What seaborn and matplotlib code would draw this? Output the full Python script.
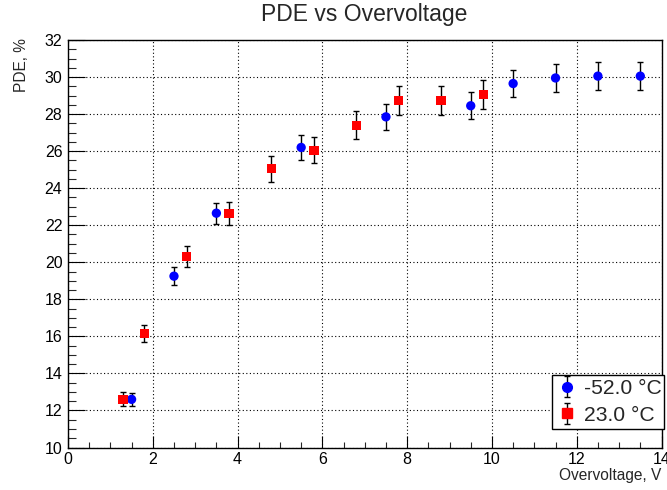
import matplotlib
matplotlib.use("Agg")
import matplotlib.pyplot as plt
import seaborn as sns
import pandas as pd
from matplotlib.ticker import MultipleLocator
from matplotlib.legend_handler import HandlerTuple
from matplotlib.lines import Line2D

# ---- data ----
cold_label = "-52.0 \u00b0C"
cold_x = [1.5, 2.5, 3.5, 5.5, 7.5, 9.5, 10.5, 11.5, 12.5, 13.5]
cold_y = [12.6, 19.25, 22.65, 26.2, 27.85, 28.45, 29.65, 29.95, 30.05, 30.05]
cold_err = [0.36, 0.49, 0.57, 0.66, 0.70, 0.72, 0.75, 0.76, 0.76, 0.76]

warm_label = "23.0 \u00b0C"
warm_x = [1.3, 1.8, 2.8, 3.8, 4.8, 5.8, 6.8, 7.8, 8.8, 9.8]
warm_y = [12.6, 16.15, 20.3, 22.65, 25.05, 26.05, 27.4, 28.75, 28.75, 29.05]
warm_err = [0.37, 0.46, 0.57, 0.63, 0.69, 0.70, 0.76, 0.79, 0.78, 0.80]

title = "PDE vs Overvoltage"
xlabel = "Overvoltage, V"
ylabel = "PDE, %"

sns.set_theme(style="white")
plt.rcParams["font.family"] = ["Liberation Sans", "DejaVu Sans"]

fig = plt.figure(figsize=(6.67, 4.90), dpi=100)
ax = fig.add_axes([68 / 667, 1 - 447.5 / 490, (661.5 - 68) / 667, (447.5 - 40) / 490])

df = pd.concat([
    pd.DataFrame({"x": cold_x, "y": cold_y, "err": cold_err, "T": cold_label}),
    pd.DataFrame({"x": warm_x, "y": warm_y, "err": warm_err, "T": warm_label}),
])

# error bars
eb_cold = ax.errorbar(cold_x, cold_y, yerr=cold_err, fmt="none", ecolor="black",
                      elinewidth=1.0, capsize=2.0, capthick=1.0, zorder=2)
eb_warm = ax.errorbar(warm_x, warm_y, yerr=warm_err, fmt="none", ecolor="black",
                      elinewidth=1.0, capsize=2.0, capthick=1.0, zorder=2)

sns.scatterplot(data=df, x="x", y="y", hue="T", style="T",
                palette={cold_label: "#0000ff", warm_label: "#ff0000"},
                markers={cold_label: "o", warm_label: "s"},
                s=45, linewidth=0, ax=ax, legend=False, zorder=3)

ax.set_xlim(0, 14)
ax.set_ylim(10, 32)
ax.xaxis.set_major_locator(MultipleLocator(2))
ax.xaxis.set_minor_locator(MultipleLocator(0.5))
ax.yaxis.set_major_locator(MultipleLocator(2))
ax.yaxis.set_minor_locator(MultipleLocator(0.5))

ax.grid(True, which="major", color="black", linestyle=(0, (1, 2.2)), linewidth=0.8)
ax.set_axisbelow(True)
for sp in ax.spines.values():
    sp.set_color("black")
    sp.set_linewidth(1.0)

ax.tick_params(axis="x", which="major", direction="in", length=9, width=0.8,
               bottom=True, top=False, labelsize=11.5, pad=3.5, colors="black")
ax.tick_params(axis="x", which="minor", direction="in", length=4, width=0.8,
               bottom=True, top=False)
ax.tick_params(axis="y", which="major", direction="in", length=12, width=0.8,
               left=True, right=False, labelsize=11.5, pad=4, colors="black")
ax.tick_params(axis="y", which="minor", direction="in", length=5.5, width=0.8,
               left=True, right=False)

ax.set_xlabel("")
ax.set_ylabel("")
fig.text(661 / 667, 1 - 480 / 490, xlabel, ha="right", va="baseline", fontsize=11.2)
fig.text(22 / 667, 1 - 38 / 490, ylabel, ha="center", va="top", rotation=90, fontsize=11.2)
fig.text(364 / 667, 1 - 15 / 490, title, ha="center", va="center", fontsize=16.5)

h_cold = (eb_cold, Line2D([], [], marker="o", color="#0000ff", linestyle="none", markersize=7))
h_warm = (eb_warm, Line2D([], [], marker="s", color="#ff0000", linestyle="none", markersize=7))
leg = fig.legend([h_cold, h_warm], [cold_label, warm_label],
                 handler_map={tuple: HandlerTuple(ndivide=1)},
                 loc="upper left",
                 bbox_to_anchor=(552 / 667, 1 - 431 / 490, 112 / 667, 56 / 490),
                 mode="expand",
                 frameon=True, fancybox=False, shadow=False, fontsize=15.2,
                 borderpad=0.2, labelspacing=0.35, handlelength=1.0,
                 handletextpad=0.3, borderaxespad=0)
leg.get_frame().set_edgecolor("black")
leg.get_frame().set_linewidth(1.0)
leg.get_frame().set_facecolor("white")
leg.get_frame().set_alpha(1.0)

fig.savefig("out.png", dpi=100)
